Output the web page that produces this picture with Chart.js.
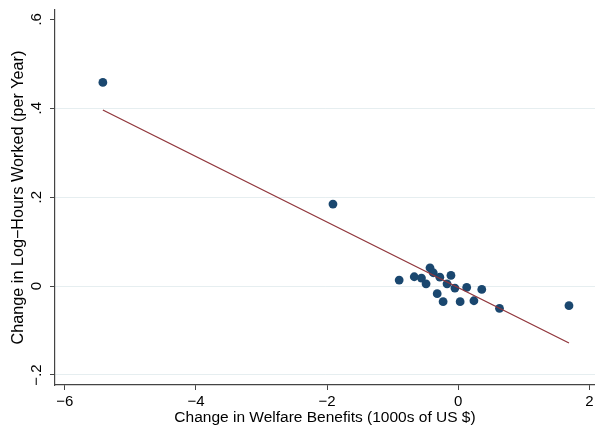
<!DOCTYPE html>
<html><head><meta charset="utf-8">
<script src="https://cdn.jsdelivr.net/npm/chart.js@4"></script>
<style>html,body{margin:0;padding:0;background:#fff}</style>
</head><body>
<canvas id="c" width="595" height="427"></canvas>
<script>
// Data
const benefitChange = [-5.42, -1.91, -0.90, -0.67, -0.56, -0.49, -0.43, -0.38, -0.28, -0.11, -0.17, -0.05, 0.13, 0.36, -0.32, -0.23, 0.03, 0.24, 0.63, 1.69];
const hoursChange   = [0.458, 0.1845, 0.0135, 0.021, 0.018, 0.005, 0.041, 0.030, 0.020, 0.024, 0.005, -0.0045, -0.003, -0.0075, -0.017, -0.035, -0.035, -0.033, -0.050, -0.044];
const fitX = [-5.42, 1.69];
const fitY = [0.396, -0.128];
const xTicks = [-6, -4, -2, 0, 2];
const xTickLabels = ['\u22126', '\u22124', '\u22122', '0', '2'];
const yTicks = [-0.2, 0, 0.2, 0.4, 0.6];
const yTickLabels = ['\u2212.2', '0', '.2', '.4', '.6'];
const xTitle = 'Change in Welfare Benefits (1000s of US $)';
const yTitle = 'Change in Log\u2212Hours Worked (per Year)';

const FONT = '"Liberation Sans", Arial, Helvetica, sans-serif';
const AXIS = '#444444';
const TICKFONT = '15px ' + FONT;

const tickLabelPlugin = {
  id: 'tickLabels',
  afterDraw(chart) {
    const ctx = chart.ctx, sx = chart.scales.x, sy = chart.scales.y;
    ctx.save();
    ctx.fillStyle = '#000';
    ctx.font = TICKFONT;
    ctx.textAlign = 'center';
    ctx.textBaseline = 'middle';
    xTicks.forEach((v, i) => {
      ctx.fillText(xTickLabels[i], sx.getPixelForValue(v), 401.5);
    });
    yTicks.forEach((v, i) => {
      ctx.save();
      ctx.translate(37, sy.getPixelForValue(v));
      ctx.rotate(-Math.PI / 2);
      ctx.fillText(yTickLabels[i], 0, 0);
      ctx.restore();
    });
    ctx.restore();
  }
};

const points = benefitChange.map((x, i) => ({x, y: hoursChange[i]}));
const fitLine = fitX.map((x, i) => ({x, y: fitY[i]}));

new Chart(document.getElementById('c'), {
  type: 'scatter',
  data: {
    datasets: [
      {
        type: 'line', label: 'Fitted values', data: fitLine,
        borderColor: '#90353b', borderWidth: 1.3, pointRadius: 0, fill: false, tension: 0
      },
      {
        label: 'Observed', data: points,
        backgroundColor: '#1a476f', borderColor: '#1a476f', borderWidth: 0, pointRadius: 4.4
      }
    ]
  },
  options: {
    responsive: false, animation: false, devicePixelRatio: 1,
    layout: {autoPadding: false, padding: {top: 10, right: 0, left: 0, bottom: 0}},
    plugins: {legend: {display: false}, tooltip: {enabled: false}},
    scales: {
      x: {
        type: 'linear', min: -6.15, max: 2.087,
        afterBuildTicks: s => { s.ticks = xTicks.map(v => ({value: v})); },
        afterFit: s => { s.height = 42; s.paddingLeft = 0; s.paddingRight = 0; },
        ticks: {display: false},
        grid: {drawOnChartArea: false, tickLength: 5, tickColor: AXIS, tickWidth: 1},
        border: {display: true, color: AXIS, width: 1.2},
        title: {display: true, text: xTitle, color: '#000', font: {family: FONT, size: 15.5}, padding: {top: 0, bottom: 0}}
      },
      y: {
        type: 'linear', min: -0.2225, max: 0.621,
        afterBuildTicks: s => { s.ticks = yTicks.map(v => ({value: v})); },
        afterFit: s => { s.width = 55; s.paddingTop = 0; s.paddingBottom = 0; },
        ticks: {display: false},
        grid: {
          drawOnChartArea: true, tickLength: 5, tickColor: AXIS, tickWidth: 1,
          color: ctx => (ctx.tick && Math.abs(ctx.tick.value - 0.6) < 1e-9) ? 'rgba(0,0,0,0)' : '#e6eef0',
          lineWidth: 1
        },
        border: {display: true, color: AXIS, width: 1.2},
        title: {display: true, text: yTitle, color: '#000', font: {family: FONT, size: 16.2}, padding: {top: 9, bottom: 0}}
      }
    }
  },
  plugins: [tickLabelPlugin]
});
</script>
</body></html>
